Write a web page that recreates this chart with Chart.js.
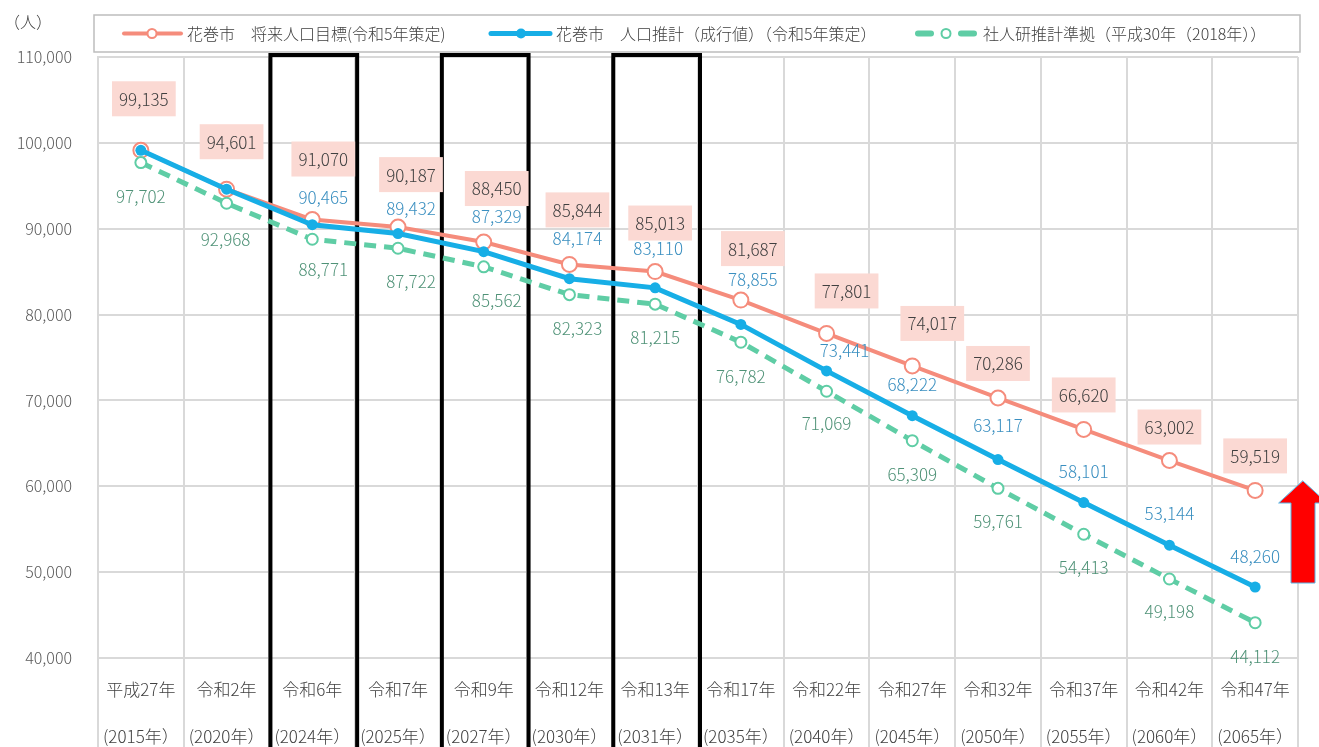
<!DOCTYPE html>
<html lang="ja">
<head>
<meta charset="utf-8">
<title>花巻市 人口推計</title>
<script src="https://cdn.jsdelivr.net/npm/chart.js@4.4.1/dist/chart.umd.min.js"></script>
<style>
  html, body { margin: 0; padding: 0; background: #fff; }
  #wrap { position: relative; width: 1319px; height: 747px; }
</style>
</head>
<body>
<div id="wrap"><canvas id="popChart"></canvas></div>
<script>
// ========= dados =========
const eraLabels  = ['平成27年', '令和2年', '令和6年', '令和7年', '令和9年', '令和12年', '令和13年',
                    '令和17年', '令和22年', '令和27年', '令和32年', '令和37年', '令和42年', '令和47年'];
const yearLabels = ['(2015年）', '(2020年）', '(2024年）', '(2025年）', '(2027年）', '(2030年）', '(2031年）',
                    '(2035年）', '(2040年）', '(2045年）', '(2050年）', '(2055年）', '(2060年）', '(2065年）'];

// 将来人口目標 / 人口推計（成行値） / 社人研推計準拠
const targetPop = [99135, 94601, 91070, 90187, 88450, 85844, 85013, 81687, 77801, 74017, 70286, 66620, 63002, 59519];
const trendPop  = [99135, 94601, 90465, 89432, 87329, 84174, 83110, 78855, 73441, 68222, 63117, 58101, 53144, 48260];
const ipssPop   = [97702, 92968, 88771, 87722, 85562, 82323, 81215, 76782, 71069, 65309, 59761, 54413, 49198, 44112];

const yMin = 40000, yMax = 110000, yStep = 10000;
const highlightIdx = [2, 4, 6];      // 令和6年・令和9年・令和13年 を枠で囲む
const trendNoLabel = [0, 1];         // 成行値は実績年にラベルなし

const legendNames = ['花巻市　将来人口目標(令和5年策定)', '花巻市　人口推計（成行値）（令和5年策定）', '社人研推計準拠（平成30年（2018年））'];

// ========= estilo / posições das etiquetas (dx, dy a partir do ponto) =========
const targetLabelPos = [[3,-52],[5,-48],[11,-61],[13,-53],[13,-54],[8,-55],[5,-49],[12,-52],[20,-43],[20,-43],[0,-35],[0,-35],[0,-34],[0,-35]];
const trendLabelPos  = [[0,0],[0,0],[11,-27],[13,-25],[13,-35],[8,-40],[3,-39],[12,-45],[18,-20],[0,-31],[0,-34],[0,-31],[0,-32],[0,-31]];
const ipssLabelPos   = [[0,34],[-1,36],[11,30],[13,33],[13,34],[8,34],[0,33],[0,34],[0,32],[0,34],[0,33],[0,33],[0,33],[0,34]];

const FONT = '"Noto Sans CJK JP", "Noto Sans", sans-serif';
const FW = 300;
const C_TARGET = '#f58c7c';
const C_TREND  = '#17aee6';
const C_IPSS   = '#5fcda5';
const C_TEXT   = '#404040';

const fmt = v => v.toLocaleString('en-US');

// ========= plugin: moldura, rótulos, legenda, seta =========
const overlayPlugin = {
  id: 'overlay',
  beforeDatasetsDraw(chart) {
    const { ctx, chartArea, scales: { x } } = chart;
    const half = (x.getPixelForValue(1) - x.getPixelForValue(0)) / 2;
    ctx.save();
    ctx.strokeStyle = '#000';
    ctx.lineWidth = 4;
    highlightIdx.forEach(i => {
      const c = x.getPixelForValue(i);
      ctx.strokeRect(c - half + 1, chartArea.top - 2, half * 2 + 1, chart.height + 20);
    });
    ctx.restore();
  },
  afterDatasetsDraw(chart) {
    const ctx = chart.ctx;
    ctx.save();
    ctx.font = `${FW} 17px ${FONT}`;
    ctx.textAlign = 'center';
    ctx.textBaseline = 'middle';

    // 将来人口目標: caixa rosa
    chart.getDatasetMeta(0).data.forEach((pt, i) => {
      const [dx, dy] = targetLabelPos[i];
      const txt = fmt(targetPop[i]);
      const w = ctx.measureText(txt).width;
      const cx = pt.x + dx, cy = pt.y + dy;
      ctx.fillStyle = '#fbd9d3';
      ctx.fillRect(cx - w / 2 - 7, cy - 17, w + 14, 35);
      ctx.fillStyle = C_TEXT;
      ctx.fillText(txt, cx, cy + 1);
    });
    // 成行値
    ctx.fillStyle = '#3a8fc0';
    chart.getDatasetMeta(1).data.forEach((pt, i) => {
      if (trendNoLabel.includes(i)) return;
      const [dx, dy] = trendLabelPos[i];
      ctx.fillText(fmt(trendPop[i]), pt.x + dx, pt.y + dy);
    });
    // 社人研
    ctx.fillStyle = '#4f9277';
    chart.getDatasetMeta(2).data.forEach((pt, i) => {
      const [dx, dy] = ipssLabelPos[i];
      ctx.fillText(fmt(ipssPop[i]), pt.x + dx, pt.y + dy);
    });
    ctx.restore();
  },
  afterDraw(chart) {
    const { ctx, chartArea } = chart;
    ctx.save();

    // unidade
    ctx.font = `${FW} 16px ${FONT}`;
    ctx.fillStyle = C_TEXT;
    ctx.textBaseline = 'middle';
    ctx.textAlign = 'left';
    ctx.fillText('（人）', 4, 22);

    // legenda
    const lx = chartArea.left - 4, ly = 15, lw = chartArea.right - chartArea.left + 6, lh = 37;
    ctx.fillStyle = '#fff';
    ctx.fillRect(lx, ly, lw, lh);
    ctx.strokeStyle = '#bdbdbd';
    ctx.lineWidth = 1.5;
    ctx.strokeRect(lx, ly, lw, lh);
    const my = ly + lh / 2;
    ctx.font = `${FW} 16px ${FONT}`;
    ctx.fillStyle = C_TEXT;

    // item 1
    ctx.lineCap = 'round';
    ctx.strokeStyle = C_TARGET; ctx.lineWidth = 4;
    ctx.beginPath(); ctx.moveTo(124, my); ctx.lineTo(181, my); ctx.stroke();
    ctx.fillStyle = '#fff'; ctx.lineWidth = 2;
    ctx.beginPath(); ctx.arc(152, my, 4.5, 0, Math.PI * 2); ctx.fill(); ctx.stroke();
    ctx.fillStyle = C_TEXT;
    ctx.fillText(legendNames[0], 187, my);

    // item 2
    ctx.strokeStyle = C_TREND; ctx.lineWidth = 5;
    ctx.beginPath(); ctx.moveTo(491, my); ctx.lineTo(550, my); ctx.stroke();
    ctx.fillStyle = C_TREND;
    ctx.beginPath(); ctx.arc(521, my, 5, 0, Math.PI * 2); ctx.fill();
    ctx.fillStyle = C_TEXT;
    ctx.fillText(legendNames[1], 556, my);

    // item 3
    ctx.strokeStyle = C_IPSS; ctx.lineWidth = 6;
    ctx.beginPath(); ctx.moveTo(918, my); ctx.lineTo(931, my); ctx.stroke();
    ctx.beginPath(); ctx.moveTo(961, my); ctx.lineTo(974, my); ctx.stroke();
    ctx.fillStyle = '#fff'; ctx.lineWidth = 2;
    ctx.beginPath(); ctx.arc(946, my, 4.5, 0, Math.PI * 2); ctx.fill(); ctx.stroke();
    ctx.fillStyle = C_TEXT;
    ctx.fillText(legendNames[2], 983, my);

    // seta vermelha
    const ax = chartArea.right + 5, top = chartArea.top + 424;
    ctx.beginPath();
    ctx.moveTo(ax, top);
    ctx.lineTo(ax + 24, top + 22);
    ctx.lineTo(ax + 12, top + 22);
    ctx.lineTo(ax + 12, top + 102);
    ctx.lineTo(ax - 12, top + 102);
    ctx.lineTo(ax - 12, top + 22);
    ctx.lineTo(ax - 24, top + 22);
    ctx.closePath();
    ctx.fillStyle = '#ff0000';
    ctx.fill();
    ctx.strokeStyle = '#58b6e6';
    ctx.lineWidth = 1;
    ctx.stroke();

    ctx.restore();
  }
};

// ========= gráfico =========
const ctx = document.getElementById('popChart').getContext('2d');
new Chart(ctx, {
  type: 'line',
  data: {
    labels: eraLabels,
    datasets: [
      {
        label: legendNames[0],
        data: targetPop,
        borderColor: C_TARGET,
        borderWidth: 4,
        pointRadius: 7.5,
        pointBorderWidth: 2,
        pointBackgroundColor: '#fff',
        pointBorderColor: C_TARGET,
        tension: 0,
        order: 2
      },
      {
        label: legendNames[1],
        data: trendPop,
        borderColor: C_TREND,
        borderWidth: 5,
        pointRadius: 5.5,
        pointBorderWidth: 0,
        pointBackgroundColor: C_TREND,
        tension: 0,
        order: 0
      },
      {
        label: legendNames[2],
        data: ipssPop,
        borderColor: C_IPSS,
        borderWidth: 5,
        borderDash: [12, 8],
        pointRadius: 5.5,
        pointBorderWidth: 2,
        pointBackgroundColor: '#fff',
        pointBorderColor: C_IPSS,
        tension: 0,
        order: 1
      }
    ]
  },
  options: {
    responsive: true,
    maintainAspectRatio: false,
    animation: false,
    layout: { padding: { top: 57, right: 21, bottom: 0, left: 0 } },
    plugins: {
      legend: { display: false },
      tooltip: { enabled: false }
    },
    scales: {
      x: {
        offset: true,
        grid: { offset: true, color: '#d9d9d9', lineWidth: 2, tickLength: 100, drawTicks: true },
        border: { color: '#d9d9d9', width: 2 },
        ticks: {
          color: C_TEXT,
          font: { family: FONT, size: 17, weight: FW, lineHeight: '47px' },
          maxRotation: 0,
          autoSkip: false,
          padding: -91.5,
          callback: (v, i) => [eraLabels[i], yearLabels[i]]
        },
        afterFit: s => { s.height = 89; }
      },
      y: {
        min: yMin,
        max: yMax,
        grid: { color: '#d9d9d9', lineWidth: 2, drawTicks: false },
        border: { color: '#d9d9d9', width: 2 },
        ticks: {
          stepSize: yStep,
          color: '#595959',
          padding: 26,
          font: { family: FONT, size: 16, weight: FW },
          callback: v => fmt(v)
        },
        afterFit: s => { s.width = 98; }
      }
    }
  },
  plugins: [overlayPlugin]
});
</script>
</body>
</html>
